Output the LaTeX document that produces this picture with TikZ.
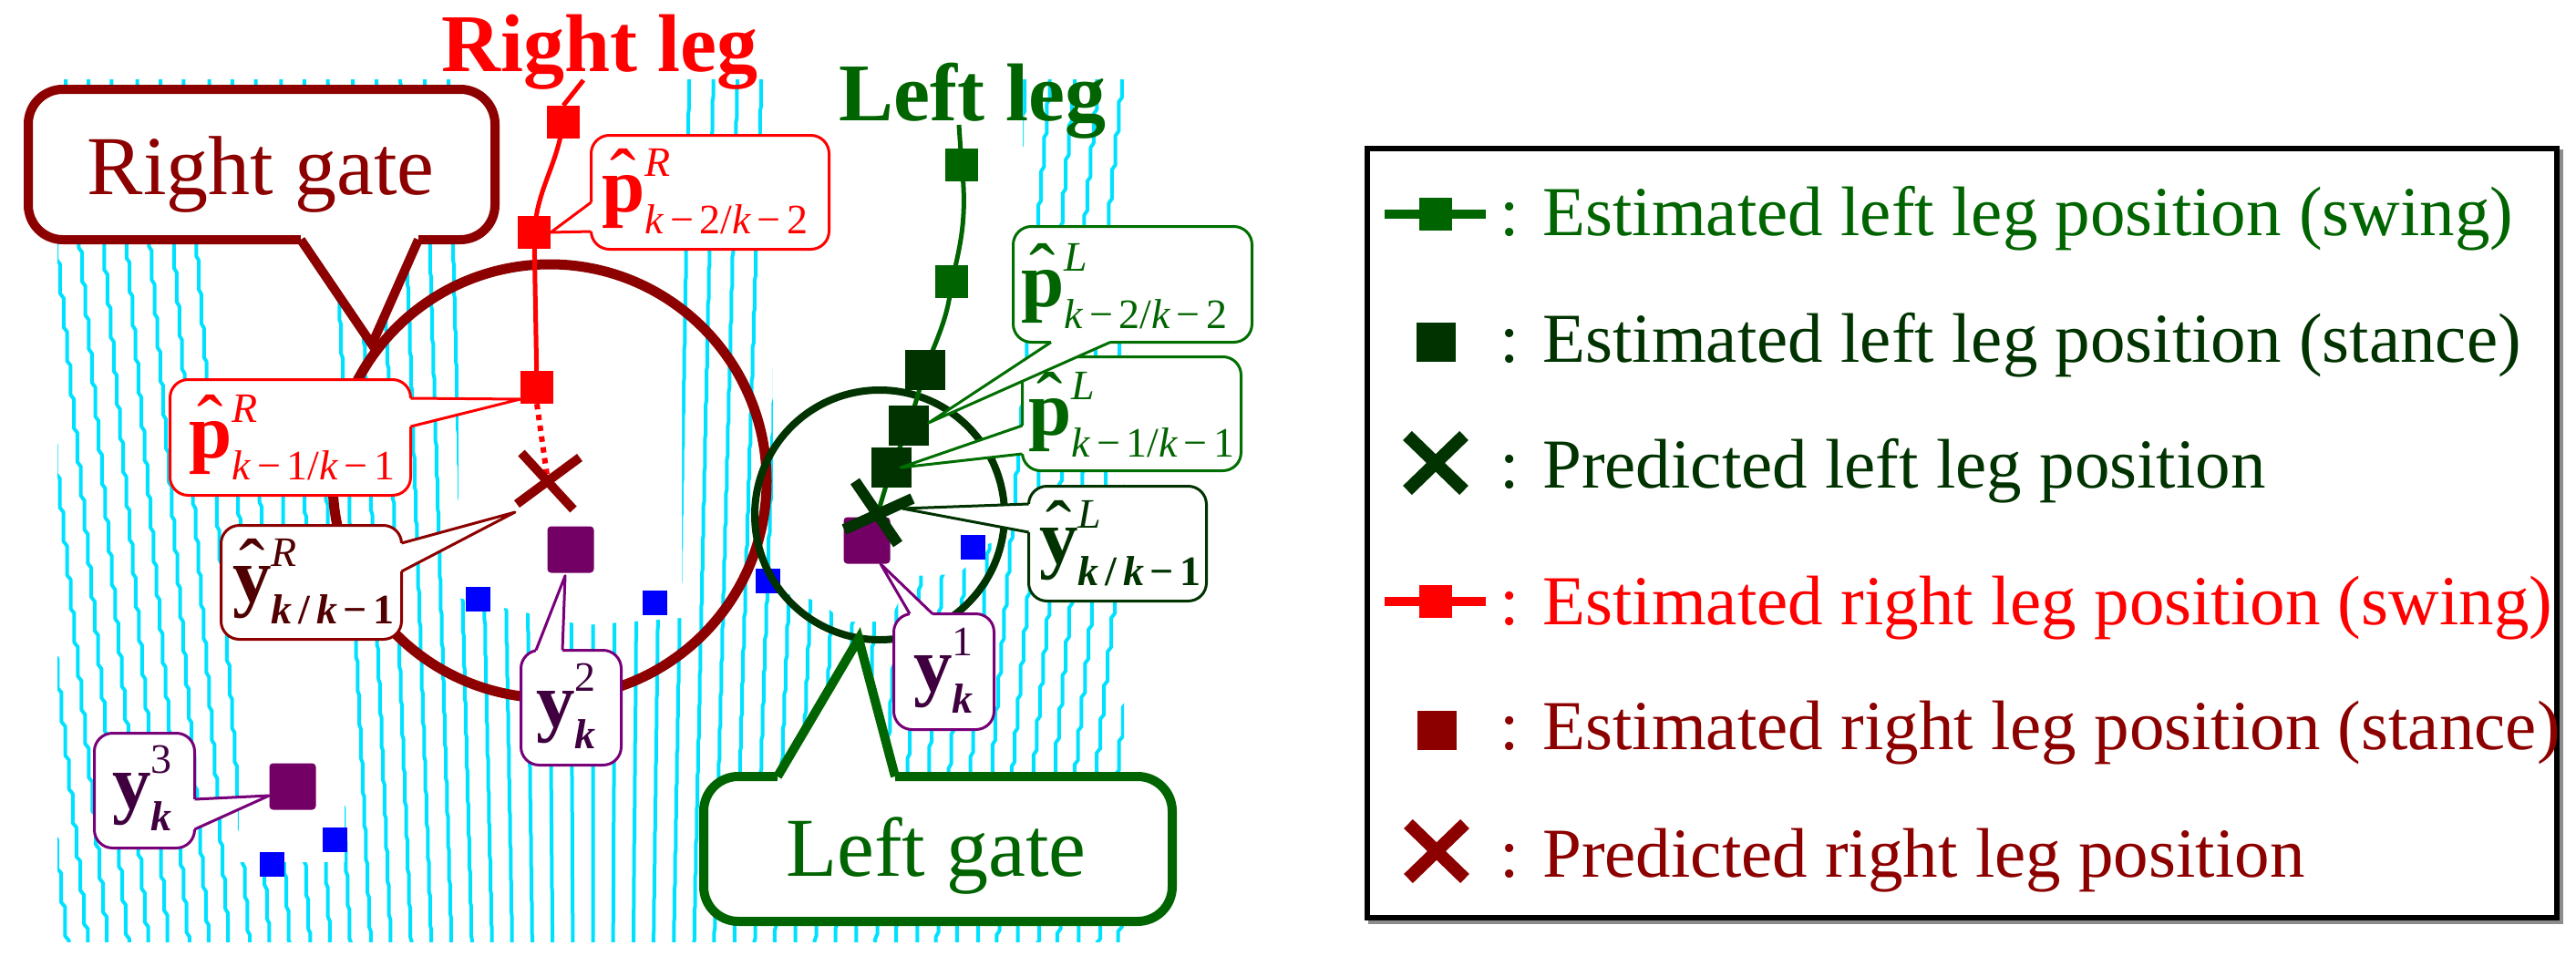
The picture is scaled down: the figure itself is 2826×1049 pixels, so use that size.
\documentclass[tikz,border=0pt]{standalone}
\usepackage{fontspec}
\setmainfont{Liberation Serif}
\usetikzlibrary{calc}
\definecolor{cRed}{RGB}{255,0,0}
\definecolor{cRd}{RGB}{140,0,0}
\definecolor{cRt}{RGB}{80,0,0}
\definecolor{cGs}{RGB}{0,100,0}
\definecolor{cGd}{RGB}{0,51,0}
\definecolor{cGb}{RGB}{0,110,0}
\definecolor{cPu}{RGB}{115,0,100}
\definecolor{cPl}{RGB}{120,0,120}
\definecolor{cPt}{RGB}{64,0,64}
\definecolor{cScan}{RGB}{0,225,255}
\definecolor{cBlue}{RGB}{0,0,255}
\newcommand\hatx[1]{\ooalign{#1\cr\hidewidth\raisebox{10pt}{ˆ}\hidewidth\cr}}
\newcommand\mlab[3]{#1\makebox[0pt][l]{\raisebox{39pt}{\fontsize{46}{46}\selectfont #2}}\raisebox{-24pt}{\fontsize{46}{46}\selectfont #3}}
\newcommand\mn{\hspace{0.14em}−\hspace{0.14em}}
% callout pointer: colour, line width, erase width, base A, tip, base B
\newcommand\callptr[6]{%
  \fill[white] (#4) -- (#5) -- (#6) -- cycle;
  \draw[white, line width=#3] (#4) -- (#6);
  \draw[#1, line width=#2, line join=round] (#4) -- (#5) -- (#6);}
\tikzset{
 scanline/.style={draw=cScan, line width=4pt},
 lbox/.style={rectangle, rounded corners=20pt, line width=3pt, fill=white, inner sep=0pt},
 gatebox/.style={rectangle, rounded corners=38pt, line width=10pt, fill=white, inner sep=0pt},
 lbl/.style={anchor=base west, inner sep=0pt, font=\fontsize{85}{85}\selectfont},
 bigtxt/.style={anchor=base, inner sep=0pt, font=\fontsize{92}{92}\selectfont},
 legtxt/.style={anchor=base west, inner sep=0pt, font=\fontsize{77}{80}\selectfont},
 sqr/.style={rectangle, inner sep=0pt, minimum size=#1},
}
\begin{document}
\begin{tikzpicture}[x=1pt,y=-1pt]
\useasboundingbox (0,0) rectangle (2826,1049);
% ---------- scan lines ----------
\begin{scope}
 \clip (63,87) rectangle (1233,1033);
 \foreach \k in {-6,...,48}{
  \pgfmathsetmacro\xt{72+26.3*\k}
  \pgfmathsetmacro\slp{(650-\xt)/5900}
  \pgfmathsetmacro\ph{mod(13*\k+370,37)}
  \draw[scanline, line join=round] ({\xt-(\slp)*\ph},{87-\ph})
    \foreach \j in {1,...,27}{ -- ({\xt+(\slp)*(37*(\j-1)-\ph)},{87-\ph+37*\j}) -- ({\xt+(\slp)*(37*\j-\ph)},{92-\ph+37*\j}) };
 }
\end{scope}
% white zones
\fill[white] (503,80) -- (748,80) -- (748,678) -- (640,686) -- (503,656) -- cycle;
\fill[white] (238,268) rectangle (360,415);
\fill[white] (262,703) rectangle (378,946);
\fill[white] (848,80) -- (1122,80) -- (1122,376) -- (1106,376) -- (1106,590) -- (1080,598) -- (1070,614) -- (1050,630) -- (1000,632) -- (975,682) -- (925,682) -- (900,660) -- (848,648) -- cycle;
% ---------- blue points ----------
\foreach \n/\p in {b1/{(524,657)},b2/{(718,661)},b3/{(842,637)},b4/{(1067,600)},b5/{(298,948)},b6/{(367,921)}}{
  \node[sqr=27pt, fill=cBlue] (\n) at \p {};
}
% ---------- gates ----------
\node[circle, draw=cRd, line width=11pt, minimum size=476pt, inner sep=0pt] (rgateC) at (603,528) {};
\node[circle, draw=cGd, line width=8pt, minimum size=274pt, inner sep=0pt] (lgateC) at (965,565) {};
% ---------- measurements ----------
\node[sqr=51pt, fill=cPu, rounded corners=4pt] (y1s) at (951,593) {};
\node[sqr=51pt, fill=cPu, rounded corners=4pt] (y2s) at (626,603) {};
\node[sqr=51pt, fill=cPu, rounded corners=4pt] (y3s) at (321,863) {};
% ---------- right leg track ----------
\coordinate (rlegc) at (640,88);
\path (618,134) node[sqr=36pt] (rs1) {} (586,255) node[sqr=36pt] (rs2) {} (589,425) node[sqr=36pt] (rs3) {};
\coordinate (rX) at (601,528);
\draw[cRed, line width=5pt] (rlegc) -- (rs1.north);
\draw[cRed, line width=5pt] (rs1.center) .. controls (610,185) and (590,205) .. (rs2.center) -- (rs3.center);
\draw[cRed, line width=6pt, dash pattern=on 6pt off 6pt] (rs3.south) -- (rX);
\foreach \n in {rs1,rs2,rs3}{\fill[cRed] (\n.south west) rectangle (\n.north east);}
\draw[cRd, line width=10pt] ($(rX)+(-29,-31)$) -- ($(rX)+(28,31)$) ($(rX)+(35,-26)$) -- ($(rX)+(-34,25)$);
% ---------- left leg track ----------
\coordinate (llegc) at (1052,137);
\path (1055,181) node[sqr=36pt] (ls1) {} (1044,309) node[sqr=36pt] (ls2) {}
      (1015,406) node[sqr=43pt] (ls3) {} (997,467) node[sqr=43pt] (ls4) {} (978,513) node[sqr=43pt] (ls5) {};
\coordinate (lX) at (963,563);
\draw[cGs, line width=5pt] (llegc) -- (ls1.center) .. controls (1061,235) and (1055,265) .. (ls2.center)
   .. controls (1040,350) and (1028,370) .. (ls3.center) -- (ls4.center) -- (ls5.center) -- (lX);
\foreach \n in {ls1,ls2}{\fill[cGs] (\n.south west) rectangle (\n.north east);}
\foreach \n in {ls3,ls4,ls5}{\fill[cGd] (\n.south west) rectangle (\n.north east);}
\draw[cGd, line width=12pt] ($(lX)+(-25,-35)$) -- ($(lX)+(22,34)$) ($(lX)+(-37,18)$) -- ($(lX)+(38,-16)$);
% ---------- gate callouts ----------
\node[gatebox, draw=cRd, minimum width=512pt, minimum height=165pt] (rgate) at (287,180.5) {};
\coordinate (rgA) at (330,263); \coordinate (rgB) at (459,263); \coordinate (rgT) at (408,378);
\fill[white] (rgA) -- (rgT) -- (rgB) -- cycle;
\draw[white, line width=12pt] (rgA) -- (rgB);
\draw[cRd, line width=10pt, line join=miter] (rgA) -- (rgT) -- (rgB);
\node[bigtxt, text=cRd] (rgatet) at (286,213) {Right gate};
\node[gatebox, draw=cGs, minimum width=514pt, minimum height=159pt] (lgate) at (1029,931.5) {};
\coordinate (lgA) at (853,852); \coordinate (lgB) at (982,852); \coordinate (lgT) at (942,701);
\fill[white] (lgA) -- (lgT) -- (lgB) -- cycle;
\draw[white, line width=12pt] (lgA) -- (lgB);
\draw[cGs, line width=10pt, line join=miter] (lgA) -- (lgT) -- (lgB);
\node[bigtxt, text=cGs] (lgatet) at (1027,961) {Left gate};
% ---------- label callouts ----------
% p R k-2
\node[lbox, draw=cRed, minimum width=261pt, minimum height=125pt] (pR2) at (779,211) {};
\coordinate (pR2a) at (648.5,222); \coordinate (pR2b) at (648.5,254);
\callptr{cRed}{3pt}{5pt}{pR2a}{rs2.east}{pR2b}
\node[lbl, text=cRed] (pR2t) at (660,232) {\mlab{\hatx{\textbf{p}}}{\textit{R}}{\textit{k}\mn2/\textit{k}\mn2}};
% p R k-1
\node[lbox, draw=cRed, minimum width=264pt, minimum height=127pt] (pR1) at (318.5,480) {};
\coordinate (pR1a) at (450.5,437); \coordinate (pR1b) at (450.5,468);
\coordinate (pR1tip) at ($(rs3.west)+(0,13)$);
\callptr{cRed}{3pt}{5pt}{pR1a}{pR1tip}{pR1b}
\node[lbl, text=cRed] (pR1t) at (207,502) {\mlab{\hatx{\textbf{p}}}{\textit{R}}{\textit{k}\mn1/\textit{k}\mn1}};
% y R
\node[lbox, draw=cRd, minimum width=198pt, minimum height=125pt] (yR) at (341.5,639) {};
\coordinate (yRa) at (440.5,596); \coordinate (yRb) at (440.5,627);
\coordinate (yRtip) at ($(rX)+(-36,34)$);
\callptr{cRd}{3pt}{5pt}{yRa}{yRtip}{yRb}
\node[lbl, text=cRt] (yRt) at (255,660) {\mlab{\hatx{\textbf{y}}}{\textit{R}}{\bfseries\textit{k}\hspace{0.15em}/\hspace{0.15em}\textit{k}\mn1}};
% y2
\node[lbox, draw=cPl, minimum width=110pt, minimum height=126pt] (y2) at (626.5,776.5) {};
\coordinate (y2a) at (588,713.5); \coordinate (y2b) at (617,713.5);
\coordinate (y2tip) at ($(y2s.south)+(-6,3)$);
\callptr{cPl}{3pt}{5pt}{y2a}{y2tip}{y2b}
\node[lbl, text=cPt] (y2t) at (588,797) {\mlab{\textbf{y}}{2}{\bfseries\textit{k}}};
% y3
\node[lbox, draw=cPl, minimum width=110pt, minimum height=126pt] (y3) at (158.5,867.5) {};
\coordinate (y3a) at (213.5,877); \coordinate (y3b) at (213.5,910);
\coordinate (y3tip) at ($(y3s.west)+(0,10)$);
\callptr{cPl}{3pt}{5pt}{y3a}{y3tip}{y3b}
\node[lbl, text=cPt] (y3t) at (123,887) {\mlab{\textbf{y}}{3}{\bfseries\textit{k}}};
% y1
\node[lbox, draw=cPl, minimum width=110pt, minimum height=127pt] (y1) at (1035.5,737) {};
\coordinate (y1a) at (998,673.5); \coordinate (y1b) at (1023,673.5);
\coordinate (y1tip) at ($(y1s.south)+(15,0)$);
\callptr{cPl}{3pt}{5pt}{y1a}{y1tip}{y1b}
\node[lbl, text=cPt] (y1t) at (1002,758) {\mlab{\textbf{y}}{1}{\bfseries\textit{k}}};
% y L
\node[lbox, draw=cGd, minimum width=195pt, minimum height=126pt] (yL) at (1226,596.5) {};
\coordinate (yLa) at (1128.5,553); \coordinate (yLb) at (1128.5,584);
\coordinate (yLtip) at ($(lX)+(27,-5)$);
\callptr{cGd}{3pt}{5pt}{yLa}{yLtip}{yLb}
\node[lbl, text=cGd] (yLt) at (1140,618) {\mlab{\hatx{\textbf{y}}}{\textit{L}}{\bfseries\textit{k}\hspace{0.15em}/\hspace{0.15em}\textit{k}\mn1}};
% p L k-1
\node[lbox, draw=cGb, minimum width=240pt, minimum height=125pt] (pL1) at (1241.5,454) {};
\coordinate (pL1a) at (1121.5,467); \coordinate (pL1b) at (1121.5,498);
\coordinate (pL1tip) at ($(ls5.center)+(10,0)$);
\callptr{cGb}{3pt}{5pt}{pL1a}{pL1tip}{pL1b}
\node[lbl, text=cGs] (pL1t) at (1128,477) {\mlab{\hatx{\textbf{p}}}{\textit{L}}{\textit{k}\mn1/\textit{k}\mn1}};
% p L k-2
\node[lbox, draw=cGb, minimum width=262pt, minimum height=127pt] (pL2) at (1242.5,312) {};
\coordinate (pL2a) at (1153,375.5); \coordinate (pL2b) at (1218,375.5);
\coordinate (pL2tip) at ($(ls4.east)+(0,-3)$);
\callptr{cGb}{3pt}{5pt}{pL2a}{pL2tip}{pL2b}
\node[lbl, text=cGs] (pL2t) at (1120,336) {\mlab{\hatx{\textbf{p}}}{\textit{L}}{\textit{k}\mn2/\textit{k}\mn2}};
% ---------- leg titles ----------
\node[anchor=base, inner sep=0pt, font=\fontsize{90}{90}\selectfont\bfseries, text=cRed] (rleg) at (658,78) {Right leg};
\node[anchor=base, inner sep=0pt, font=\fontsize{90}{90}\selectfont\bfseries, text=cGs] (lleg) at (1067,132) {Left leg};
% ---------- legend ----------
\fill[black!45] (1501,164) rectangle (2812,1014);
\node[draw=black, line width=6pt, fill=white, minimum width=1305pt, minimum height=844pt, inner sep=0pt] (legend) at (2152.5,585) {};
\coordinate (k1a) at (1519,235); \coordinate (k1b) at (1630,235);
\draw[cGs, line width=10pt] (k1a) -- (k1b);
\node[sqr=36pt, fill=cGs] (k1s) at (1575,235) {};
\node[legtxt, text=cGs] (k1t) at (1645,258) {: Estimated left leg position (swing)};
\node[sqr=43pt, fill=cGd] (k2s) at (1575,375) {};
\node[legtxt, text=cGd] (k2t) at (1645,397) {: Estimated left leg position (stance)};
\coordinate (k3) at (1575,508);
\draw[cGd, line width=14pt] ($(k3)+(-31,-30)$) -- ($(k3)+(31,30)$) ($(k3)+(31,-30)$) -- ($(k3)+(-31,30)$);
\node[legtxt, text=cGd] (k3t) at (1645,535) {: Predicted left leg position};
\coordinate (k4a) at (1519,660); \coordinate (k4b) at (1630,660);
\draw[cRed, line width=10pt] (k4a) -- (k4b);
\node[sqr=36pt, fill=cRed] (k4s) at (1575,660) {};
\node[legtxt, text=cRed] (k4t) at (1645,685) {: Estimated right leg position (swing)};
\node[sqr=43pt, fill=cRd] (k5s) at (1576,801) {};
\node[legtxt, text=cRd] (k5t) at (1645,822) {: Estimated right leg position (stance)};
\coordinate (k6) at (1576,934);
\draw[cRd, line width=14pt] ($(k6)+(-31,-30)$) -- ($(k6)+(31,30)$) ($(k6)+(31,-30)$) -- ($(k6)+(-31,30)$);
\node[legtxt, text=cRd] (k6t) at (1645,962) {: Predicted right leg position};
\end{tikzpicture}
\end{document}
